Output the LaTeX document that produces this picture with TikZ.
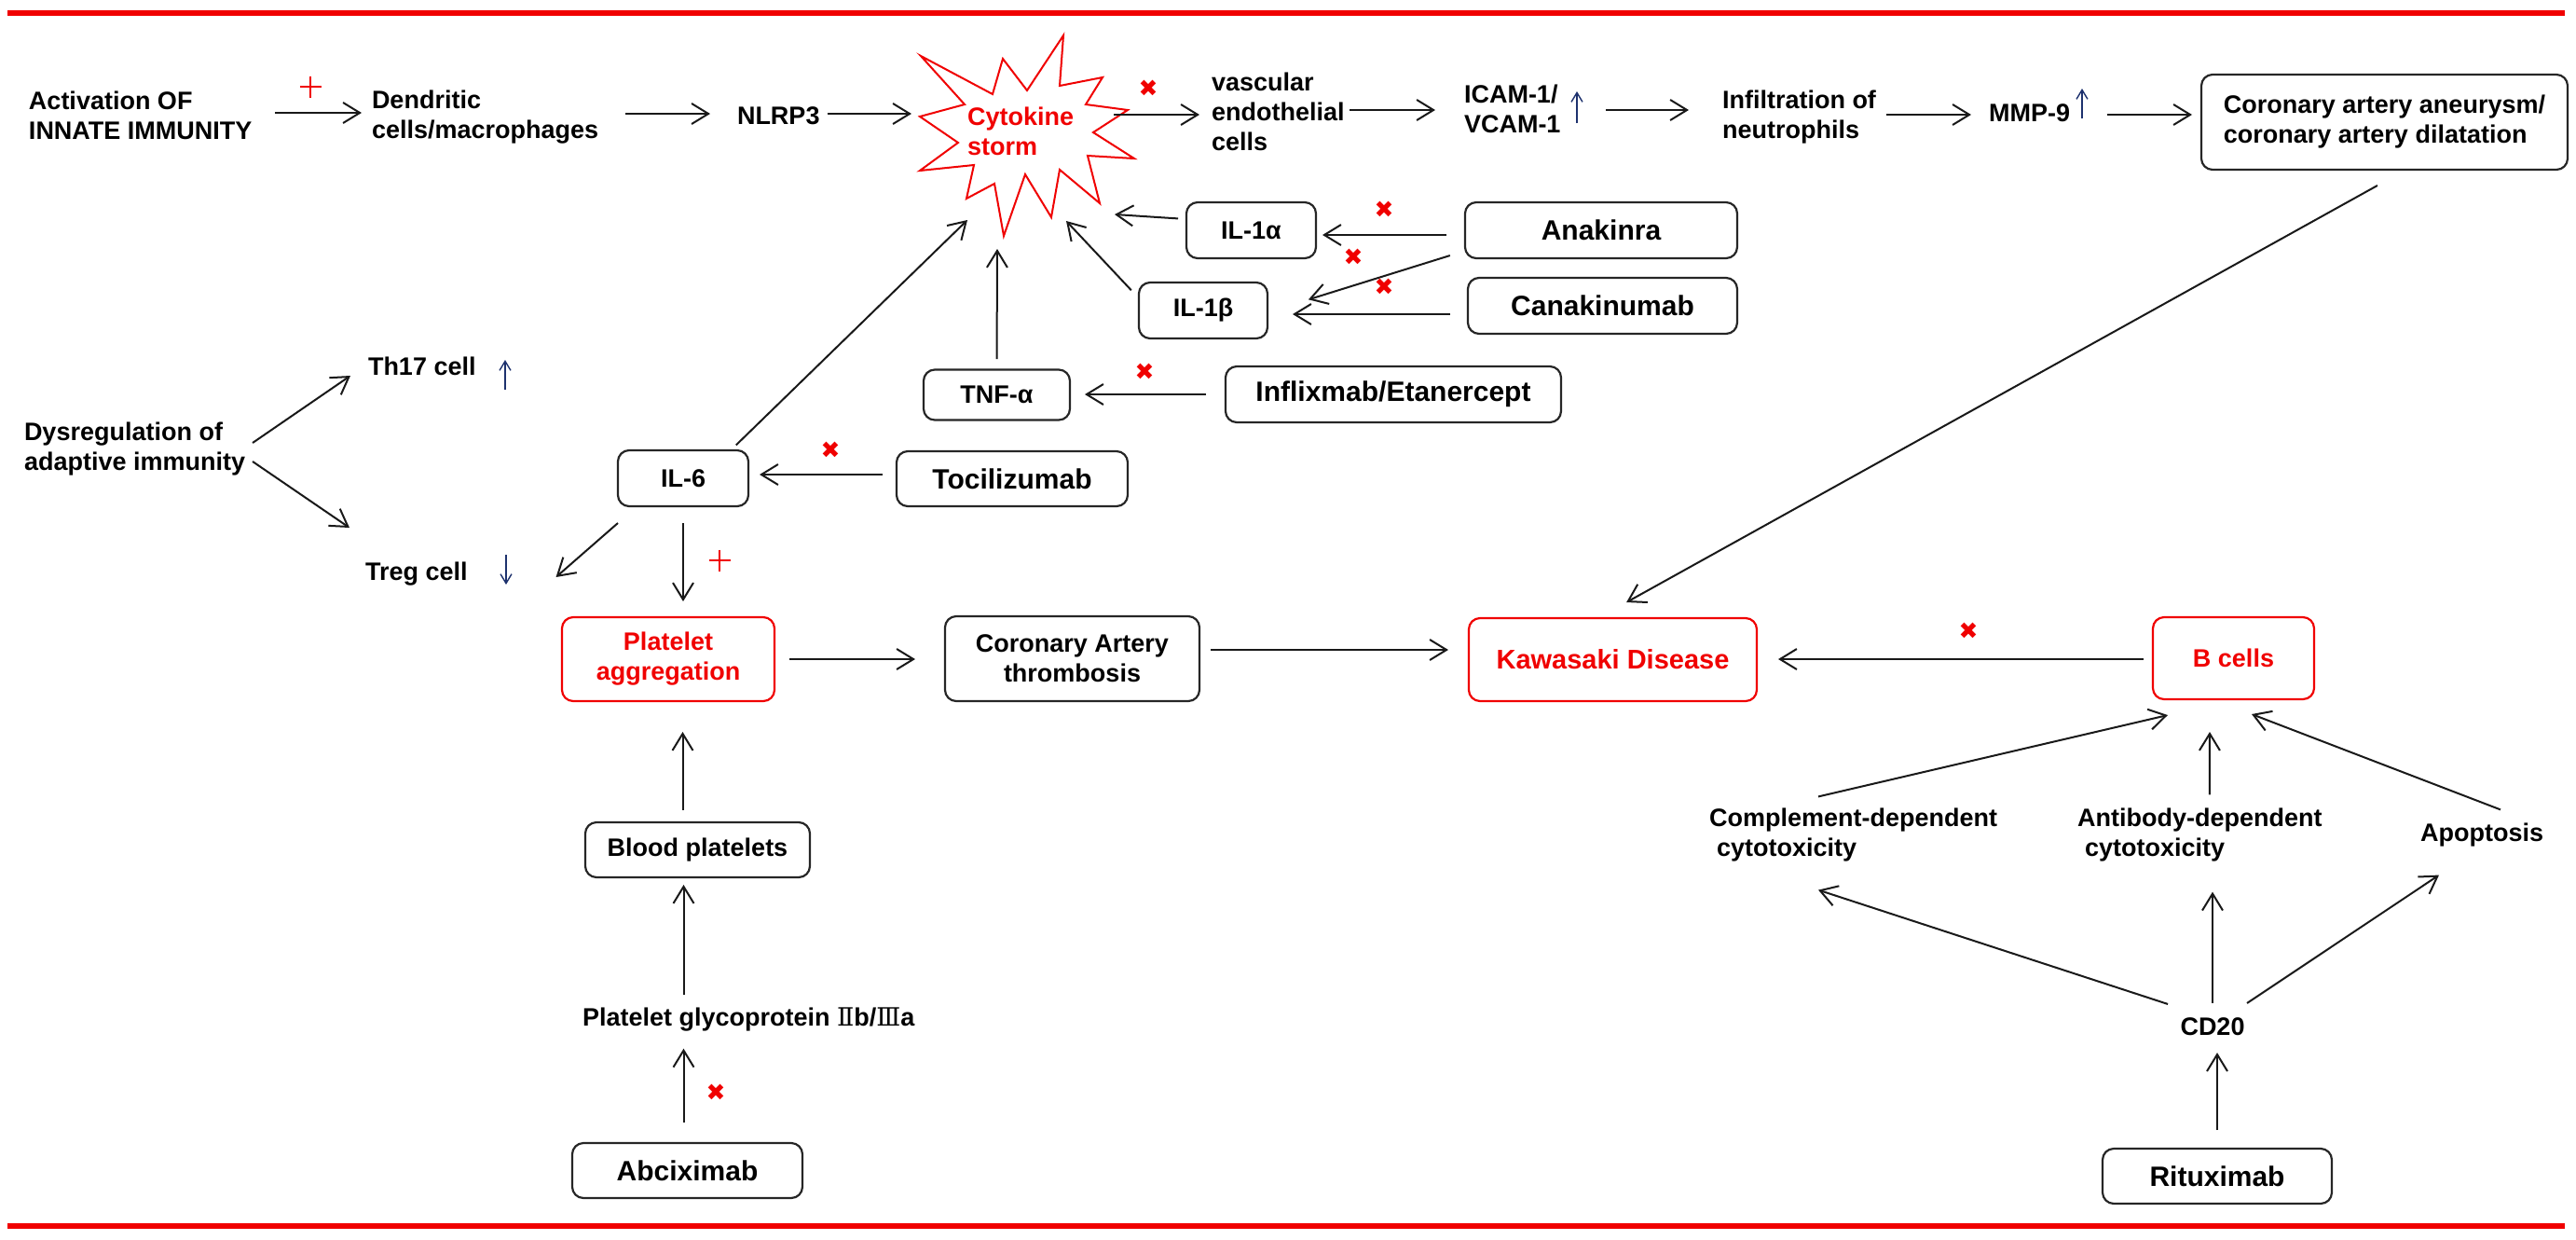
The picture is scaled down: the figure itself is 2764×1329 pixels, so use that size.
\documentclass[tikz,border=0pt]{standalone}
\usepackage{fontspec}
\setmainfont{Liberation Sans}
\newfontfamily\symfont{DejaVu Sans}
\newfontfamily\romfont{DejaVu Serif}
\usetikzlibrary{arrows.meta,calc}
\definecolor{kdred}{RGB}{240,0,0}
\definecolor{navy}{RGB}{30,50,110}
\tikzset{
 base/.style={inner sep=0pt, outer sep=0pt, font=\fontsize{13.5pt}{16pt}\selectfont\bfseries},
 txt/.style={base, align=left},
 box/.style={base, draw=black!85, line width=1.1pt, rounded corners=6pt, align=center},
 redbox/.style={box, draw=kdred, text=kdred},
 drug/.style={box, font=\fontsize{15pt}{18pt}\selectfont\bfseries},
 arr/.style={draw=black!90, line width=1pt, -{Straight Barb[length=9pt,width=11pt]}},
 bluearr/.style={draw=navy, line width=0.7pt, -{Straight Barb[length=5pt,width=6pt]}},
 xmark/.style={inner sep=0pt, text=kdred, font=\symfont\fontsize{12.5pt}{12.5pt}\selectfont},
 plusline/.style={draw=kdred, line width=0.8pt},
 frameline/.style={draw=kdred, line width=3pt},
 starline/.style={draw=kdred, line width=1pt, line join=miter},
}
\begin{document}
\begin{tikzpicture}[x=0.5pt,y=-0.5pt]
\useasboundingbox (0,0) rectangle (2764,1329);
% frame lines
\draw[frameline] (8,14) -- (2752,14);
\draw[frameline] (8,1315) -- (2752,1315);

% cytokine storm star
\draw[starline] (988,60) -- (1065,101) -- (1076,63) -- (1102,97) -- (1141,38) -- (1137,92) -- (1183,83) -- (1165,112) -- (1210,118) -- (1173,142) -- (1217,170) -- (1167,167) -- (1180,218) -- (1137,182) -- (1128,233) -- (1100,187) -- (1077,253) -- (1067,197) -- (1037,213) -- (1045,177) -- (987,183) -- (1028,153) -- (987,125) -- (1035,112) -- cycle;
\node[txt, anchor=west, text=kdred] (storm) at (1038,141) {Cytokine\\storm};
\coordinate (sIn) at (978,122);
\coordinate (sOut) at (1195,123);
\coordinate (sA) at (1196,230);
\coordinate (sB) at (1144,237);
\coordinate (sT) at (1070,267);
\coordinate (sL) at (1038,236);

% row 1
\node[txt, anchor=west] (act) at (31,124) {Activation OF\\INNATE IMMUNITY};
\node[txt, anchor=west] (dend) at (399,126) {Dendritic\\cells/macrophages};
\node[txt, anchor=west] (nlrp) at (791,124) {NLRP3};
\node[txt, anchor=west] (vasc) at (1300,120) {vascular\\endothelial\\cells};
\node[txt, anchor=west] (icam) at (1571,117) {ICAM-1/\\VCAM-1};
\node[txt, anchor=west] (infil) at (1848,126) {Infiltration of\\neutrophils};
\node[txt, anchor=west] (mmp) at (2134,121) {MMP-9};
\node[box, align=left, minimum width=196.5pt, minimum height=51pt] (caa) at (2558.5,131) {Coronary artery aneurysm/\\coronary artery dilatation};

\draw[arr, shorten <=12.5pt, shorten >=5.5pt] (act.east |- 0,121) -- (dend.west |- 0,121);
\draw[arr, shorten <=14.5pt, shorten >=14.5pt] (dend.east |- 0,122) -- (nlrp.west |- 0,122);
\draw[arr, shorten <=4pt] (nlrp.east |- sIn) -- (sIn);
\draw[arr, shorten >=6.5pt] (sOut) -- (vasc.west |- sOut);
\draw[arr, shorten <=2.75pt, shorten >=15.5pt] (vasc.east |- 0,118) -- (icam.west |- 0,118);
\draw[arr, shorten <=24.25pt, shorten >=18pt] (icam.east |- 0,118) -- (infil.west |- 0,118);
\draw[arr, shorten <=5.5pt, shorten >=9.5pt] (infil.east |- 0,123) -- (mmp.west |- 0,123);
\draw[arr, shorten <=20pt, shorten >=5pt] (mmp.east |- 0,123) -- (caa.west |- 0,123);

\draw[bluearr] (1692,132) -- (1692,98);
\draw[bluearr] (2234,127) -- (2234,95);

\draw[plusline] (321.5,93) -- (344.5,93) (333,81.5) -- (333,104.5);
\node[xmark] (x1) at (1232,95) {✖};

% interleukin group
\node[box, minimum width=69.5pt, minimum height=30pt] (il1a) at (1342.5,247) {IL-1α};
\node[drug, minimum width=146pt, minimum height=30pt] (anak) at (1718,247) {Anakinra};
\node[box, minimum width=69pt, minimum height=30pt] (il1b) at (1291,333) {IL-1β};
\node[drug, minimum width=144.5pt, minimum height=30pt] (cana) at (1719.5,328) {Canakinumab};
\node[box, minimum width=78.5pt, minimum height=27pt] (tnf) at (1069.5,423.5) {TNF-α};
\node[drug, minimum width=180pt, minimum height=30pt] (infl) at (1495,423) {Inflixmab/Etanercept};
\node[box, minimum width=70pt, minimum height=30pt] (il6) at (733,513) {IL-6};
\node[drug, minimum width=124pt, minimum height=29.5pt] (toci) at (1086,513.5) {Tocilizumab};

\draw[arr, shorten <=4.5pt] ([yshift=6pt]il1a.west) -- (sA);
\draw[arr, shorten <=10pt, shorten >=3.5pt] (anak.west |- 0,252) -- (il1a.east |- 0,252);
\draw[arr, shorten <=8.5pt, shorten >=23pt] ([yshift=-11pt]anak.west) -- ([yshift=-1pt]il1b.east);
\draw[arr, shorten <=9.5pt, shorten >=13.5pt] (cana.west |- 0,337) -- (il1b.east |- 0,337);
\draw[arr, shorten <=6pt] ([yshift=6.5pt]il1b.west) -- (sB);
\draw[arr, shorten <=5.75pt] (tnf.north) -- (sT);
\draw[arr, shorten <=10.5pt, shorten >=8pt] (infl.west |- 0,423) -- (tnf.east |- 0,423);
\draw[arr, shorten <=4pt] ([xshift=-9.5pt]il6.north east) -- (sL);
\draw[arr, shorten <=7.5pt, shorten >=6pt] (toci.west |- 0,509) -- (il6.east |- 0,509);

\node[xmark] (x2) at (1485,225) {✖};
\node[xmark] (x3) at (1452,276) {✖};
\node[xmark] (x4) at (1485,308) {✖};
\node[xmark] (x5) at (1228,399) {✖};
\node[xmark] (x6) at (891,483) {✖};

% adaptive immunity
\node[txt, anchor=west] (dys) at (26,482) {Dysregulation of\\adaptive immunity};
\node[txt, anchor=west] (th17) at (395,393) {Th17 cell};
\node[txt, anchor=west] (treg) at (392,616) {Treg cell};
\draw[arr] ([xshift=4pt,yshift=3.5pt]dys.east) -- ([xshift=-9.5pt,yshift=-5pt]th17.west);
\draw[arr] ([xshift=4pt,yshift=-6.5pt]dys.east) -- ([xshift=-8.5pt,yshift=25pt]treg.west);
\draw[bluearr] (542,418) -- (542,386);
\draw[bluearr] (543,595) -- (543,627);

% platelet branch
\node[redbox, minimum width=114pt, minimum height=45pt] (plat) at (717,707) {Platelet\\aggregation};
\node[box, minimum width=136.5pt, minimum height=45.5pt] (cor) at (1150.5,706.5) {Coronary Artery\\thrombosis};
\node[redbox, font=\fontsize{14.5pt}{17pt}\selectfont\bfseries, minimum width=154.5pt, minimum height=44.5pt] (kd) at (1730.5,707.5) {Kawasaki Disease};
\node[box, minimum width=120.5pt, minimum height=29.5pt] (bp) at (748.5,911.5) {Blood platelets};
\node[txt, anchor=west] (glyco) at (625,1094) {Platelet glycoprotein {\romfont\mdseries Ⅱ}b/{\romfont\mdseries Ⅲ}a};
\node[drug, minimum width=123.5pt, minimum height=29.5pt] (abci) at (737.5,1255.5) {Abciximab};

\draw[arr] ([yshift=-9pt]il6.south west) -- ([xshift=47.5pt,yshift=-1.5pt]treg.east);
\draw[arr, shorten <=9pt, shorten >=8.5pt] (il6.south) -- (il6.south |- plat.north);
\draw[plusline] (760.5,601) -- (783.5,601) (772,589.5) -- (772,612.5);
\draw[arr, shorten <=8pt, shorten >=16pt] (plat.east |- 0,707) -- (cor.west |- 0,707);
\draw[arr, shorten <=6pt, shorten >=11pt] (cor.east |- 0,697) -- (kd.west |- 0,697);
\draw[arr, shorten <=6.5pt, shorten >=16.5pt] ([xshift=-8pt]bp.north) -- ([xshift=-8pt]bp.north |- plat.south);
\draw[arr, shorten <=7pt, shorten >=4pt] ([xshift=-2pt]abci.north |- glyco.north) -- ([xshift=-2pt]abci.north |- bp.south);
\draw[arr, shorten <=11pt, shorten >=9pt] ([xshift=-2pt]abci.north) -- ([xshift=-2pt]abci.north |- glyco.south);
\node[xmark] (x7) at (768,1172) {✖};

% coronary aneurysm to KD
\draw[arr, shorten <=17.5pt, shorten >=17.5pt] ([xshift=11.5pt]caa.south) -- ([xshift=-8pt]kd.north);

% B cell branch
\node[redbox, minimum width=86.5pt, minimum height=44pt] (bc) at (2396.5,706) {B cells};
\node[txt, anchor=west] (cdc) at (1834,896) {Complement-dependent\\\hspace*{4pt}cytotoxicity};
\node[txt, anchor=west] (adc) at (2229,896) {Antibody-dependent\\\hspace*{4pt}cytotoxicity};
\node[txt, anchor=west] (apop) at (2597,896) {Apoptosis};
\node[txt] (cd20) at (2374,1101.5) {CD20};
\node[drug, minimum width=123pt, minimum height=29.5pt] (ritu) at (2379,1261.5) {Rituximab};

\draw[arr, shorten <=5pt, shorten >=11.5pt] (bc.west |- 0,707) -- (kd.east |- 0,707);
\node[xmark] (x8) at (2112,677) {✖};
\draw[arr] ([xshift=-18.75pt,yshift=6.5pt]cdc.north) -- ([xshift=8pt,yshift=-8.5pt]bc.south west);
\draw[arr] ([xshift=5.25pt,yshift=7.5pt]adc.north) -- ([xshift=-12.75pt,yshift=-17.5pt]bc.south);
\draw[arr] ([xshift=10pt,yshift=7.5pt]apop.north) -- ([xshift=9.75pt,yshift=-8pt]bc.south);
\draw[arr] ([xshift=-24pt,yshift=7.5pt]cd20.north) -- ([xshift=-18.75pt,yshift=-15pt]cdc.south);
\draw[arr, shorten <=8pt, shorten >=16pt] (cd20.north) -- (cd20.north |- adc.south);
\draw[arr] ([xshift=18.5pt,yshift=8pt]cd20.north) -- ([xshift=-23pt,yshift=-15pt]apop.south);
\draw[arr, shorten <=10pt, shorten >=9pt] (ritu.north) -- (ritu.north |- cd20.south);
\end{tikzpicture}
\end{document}
